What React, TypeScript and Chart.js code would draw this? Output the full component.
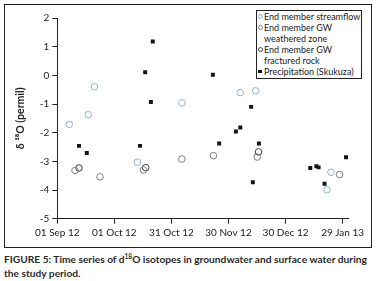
import React, { useEffect, useRef } from "react";
import { Chart, registerables } from "chart.js";

Chart.register(...registerables);

// x values: days since 01 Sep 2012
const tickDays = [0, 30, 60, 90, 120, 150];
const tickLabels = ["01 Sep 12", "01 Oct 12", "31 Oct 12", "30 Nov 12", "30 Dec 12", "29 Jan 13"];
const yTicks = [2, 1, 0, -1, -2, -3, -4, -5];

const streamflowDays = [6.3, 16.3, 19.5, 42.1, 65.5, 96.2, 104.3, 141.8, 143.9];
const streamflowValues = [-1.71, -1.37, -0.4, -3.03, -0.96, -0.6, -0.54, -3.99, -3.38];

const weatheredDays = [9.3, 22.5, 45.3, 65.5, 82.1, 105.1, 148.4];
const weatheredValues = [-3.32, -3.54, -3.3, -2.92, -2.8, -2.85, -3.46];

const fracturedDays = [11.4, 46.5, 105.8];
const fracturedValues = [-3.23, -3.22, -2.67];

const precipDays = [11.4, 15.5, 43.5, 46.2, 49.2, 50.2, 81.8, 85.1, 93.9, 96.2, 101.9, 102.8, 106.0, 133.0, 136.2, 137.4, 140.5, 151.8];
const precipValues = [-2.46, -2.71, -2.46, 0.11, -0.93, 1.18, 0.02, -2.38, -1.96, -1.82, -1.1, -3.73, -2.38, -3.23, -3.17, -3.21, -3.78, -2.86];

const seriesNames = [
  "End member streamflow",
  "End member GW weathered zone",
  "End member GW fractured rock",
  "Precipitation (Skukuza)",
];

const COL_STREAM = "#8fb2d8";
const COL_WEATH = "#7f7f7f";
const COL_FRACT = "#3a3a3a";
const COL_PRECIP = "#151515";
const FONT = "Lato, 'Liberation Sans', sans-serif";

const toPts = (xs: number[], ys: number[]) => xs.map((x, i) => ({ x, y: ys[i] }));

export default function App() {
  const ref = useRef<HTMLCanvasElement | null>(null);

  useEffect(() => {
    const canvas = ref.current;
    if (!canvas) return;
    const chart = new Chart(canvas, {
      type: "scatter",
      data: {
        datasets: [
          {
            label: seriesNames[0],
            data: toPts(streamflowDays, streamflowValues),
            pointStyle: "circle",
            pointRadius: 3.3,
            borderWidth: 1,
            borderColor: COL_STREAM,
            backgroundColor: "rgba(255,255,255,0)",
          },
          {
            label: seriesNames[1],
            data: toPts(weatheredDays, weatheredValues),
            pointStyle: "circle",
            pointRadius: 3.3,
            borderWidth: 1,
            borderColor: COL_WEATH,
            backgroundColor: "rgba(255,255,255,0)",
          },
          {
            label: seriesNames[2],
            data: toPts(fracturedDays, fracturedValues),
            pointStyle: "circle",
            pointRadius: 3.3,
            borderWidth: 1,
            borderColor: COL_FRACT,
            backgroundColor: "rgba(255,255,255,0)",
          },
          {
            label: seriesNames[3],
            data: toPts(precipDays, precipValues),
            pointStyle: "rect",
            pointRadius: 2.8,
            borderWidth: 0,
            borderColor: COL_PRECIP,
            backgroundColor: COL_PRECIP,
          },
        ],
      },
      options: {
        responsive: false,
        animation: false,
        devicePixelRatio: 1,
        layout: { padding: { top: 13, right: 22.7, left: 0, bottom: 0 } },
        plugins: { legend: { display: false }, tooltip: { enabled: false } },
        scales: {
          x: {
            type: "linear",
            min: 0,
            max: 153,
            afterBuildTicks: (scale: any) => {
              scale.ticks = tickDays.map((v) => ({ value: v }));
            },
            afterFit: (scale: any) => {
              scale.height = 28.3;
            },
            ticks: {
              autoSkip: false,
              maxRotation: 0,
              padding: 3,
              color: "#222",
              font: { family: FONT, size: 10 },
              callback: (v: any) => {
                const i = tickDays.indexOf(Number(v));
                return i >= 0 ? tickLabels[i] : "";
              },
            },
            grid: { display: true, drawOnChartArea: false, tickLength: 5, color: "#222", tickColor: "#222" },
            border: { display: true, color: "#222", width: 1 },
          },
          y: {
            type: "linear",
            min: -5,
            max: 2,
            afterBuildTicks: (scale: any) => {
              scale.ticks = yTicks.map((v) => ({ value: v }));
            },
            afterFit: (scale: any) => {
              scale.width = 52.3;
            },
            ticks: {
              padding: 3,
              color: "#222",
              font: { family: FONT, size: 10 },
              callback: (v: any) => String(v),
            },
            title: {
              display: true,
              text: "δ ¹⁸O (permil)",
              color: "#222",
              font: { family: FONT, size: 10.5, weight: "bold" },
              padding: { top: 9, bottom: 0 },
            },
            grid: { display: true, drawOnChartArea: false, tickLength: 5, color: "#222", tickColor: "#222" },
            border: { display: true, color: "#222", width: 1 },
          },
        },
      },
    });
    return () => chart.destroy();
  }, []);

  const legendRow = (marker: React.ReactNode, text: string, top: number) => (
    <div style={{ position: "absolute", left: 0, top, height: 11, lineHeight: "11px", whiteSpace: "nowrap" }}>
      <span style={{ position: "absolute", left: 0, top: 0, width: 6, height: 11, display: "flex", alignItems: "center", justifyContent: "center" }}>
        {marker}
      </span>
      <span style={{ position: "absolute", left: 7, top: 0 }}>{text}</span>
    </div>
  );
  const circle = (c: string) => (
    <span style={{ display: "block", width: 3, height: 3, borderRadius: "50%", border: `1px solid ${c}` }} />
  );
  const square = <span style={{ display: "block", width: 3.5, height: 3.5, background: COL_PRECIP }} />;

  return (
    <div style={{ position: "fixed", left: 0, top: 0, width: 379, height: 281, background: "#fff", fontFamily: FONT, color: "#222" }}>
      <div style={{ position: "absolute", left: 4, top: 4, width: 366, height: 242, border: "1px solid #222" }}>
        <canvas ref={ref} width={366} height={242} style={{ display: "block", width: 366, height: 242 }} />
      </div>
      <div
        style={{
          position: "absolute",
          left: 256,
          top: 10,
          width: 104,
          height: 67,
          border: "1.5px solid #222",
          background: "#fff",
          fontSize: 9,
        }}
      >
        <div style={{ position: "absolute", left: 0, top: 0, width: "100%", height: "100%" }}>
          <div style={{ position: "absolute", left: 0, top: 0 }}>
            {legendRow(circle(COL_STREAM), "End member streamflow", 0)}
            {legendRow(circle(COL_WEATH), "End member GW", 11)}
            {legendRow(null, "weathered zone", 22)}
            {legendRow(circle(COL_FRACT), "End member GW", 33)}
            {legendRow(null, "fractured rock", 44)}
            {legendRow(square, "Precipitation (Skukuza)", 55)}
          </div>
        </div>
      </div>
      <div
        style={{
          position: "absolute",
          left: 4,
          top: 252,
          width: 375,
          fontSize: 10.2,
          fontWeight: "bold",
          lineHeight: "14px",
          color: "#2a2a2a",
          whiteSpace: "nowrap",
        }}
      >
        <div>
          FIGURE 5: Time series of d<sup style={{ fontSize: 6.5, verticalAlign: "top", lineHeight: "10px" }}>18</sup>O isotopes in groundwater and surface water during
        </div>
        <div>the study period.</div>
      </div>
    </div>
  );
}
